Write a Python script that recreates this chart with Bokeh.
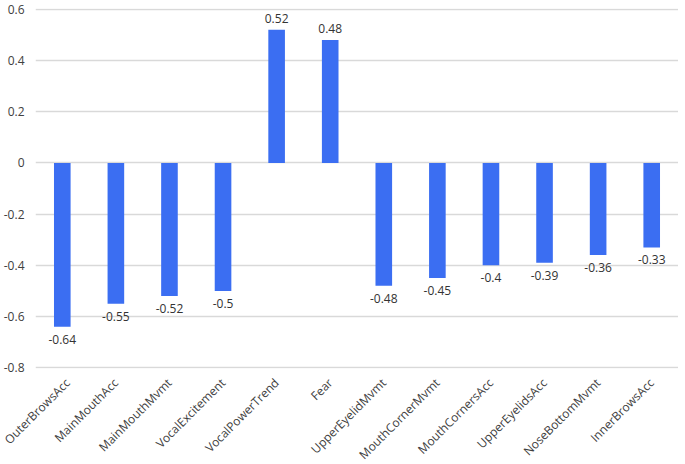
import math
from bokeh.plotting import figure
from bokeh.models import ColumnDataSource, FactorRange, Range1d, FixedTicker
from bokeh.core.properties import value
from bokeh.embed import file_html
from bokeh.resources import INLINE

categories = ["OuterBrowsAcc", "MainMouthAcc", "MainMouthMvmt", "VocalExcitement",
              "VocalPowerTrend", "Fear", "UpperEyelidMvmt", "MouthCornerMvmt",
              "MouthCornersAcc", "UpperEyelidsAcc", "NoseBottomMvmt", "InnerBrowsAcc"]
values = [-0.64, -0.55, -0.52, -0.5, 0.52, 0.48, -0.48, -0.45, -0.4, -0.39, -0.36, -0.33]
labels = ["-0.64", "-0.55", "-0.52", "-0.5", "0.52", "0.48", "-0.48", "-0.45", "-0.4", "-0.39", "-0.36", "-0.33"]
y_ticks = [-0.8, -0.6, -0.4, -0.2, 0, 0.2, 0.4, 0.6]
y_tick_labels = ["-0.8", "-0.6", "-0.4", "-0.2", "0", "0.2", "0.4", "0.6"]

FONT = "Open Sans"
TXT = "#404040"
BLUE = "#3b6ef2"

neg = [v < 0 for v in values]
src_neg = ColumnDataSource(dict(x=[c for c, n in zip(categories, neg) if n],
                                y=[v for v, n in zip(values, neg) if n],
                                t=[l for l, n in zip(labels, neg) if n]))
src_pos = ColumnDataSource(dict(x=[c for c, n in zip(categories, neg) if not n],
                                y=[v for v, n in zip(values, neg) if not n],
                                t=[l for l, n in zip(labels, neg) if not n]))
src = ColumnDataSource(dict(x=categories, top=values))

p = figure(frame_width=643, frame_height=360, output_backend="svg", toolbar_location=None,
           x_range=FactorRange(*categories, range_padding=0),
           y_range=Range1d(-0.803, 0.603),
           min_border_left=26, min_border_right=0, min_border_top=8, min_border_bottom=0)
p.outline_line_color = None
p.background_fill_color = "white"
p.border_fill_color = "white"

p.vbar(x="x", top="top", bottom=0, width=0.31, source=src, fill_color=BLUE, line_color=None)

p.text(x="x", y="y", text="t", source=src_neg, text_align="center", text_baseline="top",
       y_offset=8, text_font=value(FONT), text_font_size="12px", text_color="#333333")
p.text(x="x", y="y", text="t", source=src_pos, text_align="center", text_baseline="bottom",
       y_offset=-7, text_font=value(FONT), text_font_size="12px", text_color="#333333")

p.yaxis.ticker = FixedTicker(ticks=y_ticks)
p.yaxis.major_label_overrides = {t: l for t, l in zip(y_ticks, y_tick_labels)}
p.yaxis.axis_line_color = None
p.yaxis.major_tick_line_color = None
p.yaxis.minor_tick_line_color = None
p.yaxis.major_label_text_font = FONT
p.yaxis.major_label_text_font_size = "12px"
p.yaxis.major_label_text_color = TXT
p.yaxis.major_label_standoff = 5

p.xaxis.axis_line_color = None
p.xaxis.major_tick_line_color = None
p.xaxis.minor_tick_line_color = None
p.xaxis.major_label_orientation = math.pi / 4
p.xaxis.major_label_text_font = FONT
p.xaxis.major_label_text_font_size = "12px"
p.xaxis.major_label_text_color = TXT
p.xaxis.major_label_standoff = 6

p.xgrid.grid_line_color = None
p.ygrid.grid_line_color = "#d9d9d9"
p.ygrid.grid_line_width = 1.3

open("out.html", "w").write(file_html(p, INLINE))
